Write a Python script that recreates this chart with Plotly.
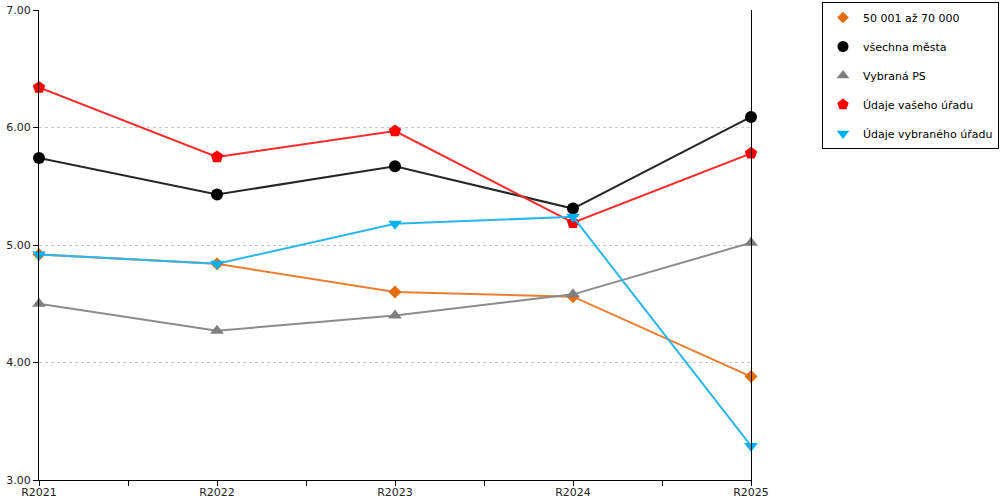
import plotly.graph_objects as go

# categories and series
years = ["R2021", "R2022", "R2023", "R2024", "R2025"]

city_size = [4.92, 4.84, 4.60, 4.56, 3.88]       # 50 001 až 70 000
all_cities = [5.74, 5.43, 5.67, 5.31, 6.09]      # všechna města
selected_ps = [4.50, 4.27, 4.40, 4.58, 5.02]     # Vybraná PS
your_office = [6.34, 5.75, 5.97, 5.19, 5.78]     # Údaje vašeho úřadu
chosen_office = [4.92, 4.84, 5.18, 5.24, 3.29]   # Údaje vybraného úřadu

y_ticks = [3, 4, 5, 6, 7]

series = [
    ("50 001 až 70 000", city_size, "#ED7D31", "#E46C0A", "diamond", 10),
    ("všechna města", all_cities, "#262626", "#000000", "circle", 12),
    ("Vybraná PS", selected_ps, "#8C8C8C", "#7F7F7F", "triangle-up", 12),
    ("Údaje vašeho úřadu", your_office, "#FF2A2A", "#FF0000", "pentagon", 13),
    ("Údaje vybraného úřadu", chosen_office, "#29B6EE", "#00B0F0", "triangle-down", 12),
]

xpos = list(range(len(years)))

fig = go.Figure()

for i, (name, vals, lcol, mcol, sym, size) in enumerate(series):
    fig.add_trace(
        go.Scatter(
            x=xpos,
            y=vals,
            mode="lines+markers",
            line=dict(color=lcol, width=2),
            marker=dict(color=mcol, symbol=sym, size=size),
            cliponaxis=False,
            showlegend=False,
            hoverinfo="skip",
        )
    )
    # legend entry with marker only
    fig.add_trace(
        go.Scatter(
            x=[None],
            y=[None],
            mode="markers",
            name=name,
            legendgroup=str(i),
            marker=dict(color=mcol, symbol=sym, size=size - 1),
        )
    )

fig.update_layout(
    width=1000,
    height=500,
    plot_bgcolor="white",
    paper_bgcolor="white",
    font=dict(family="DejaVu Sans", size=11, color="#222222"),
    margin=dict(l=39, r=249, t=10, b=20, autoexpand=False),
    showlegend=True,
    legend=dict(
        x=(822 - 39) / 712,
        xanchor="left",
        y=1 + 8 / 470,
        yanchor="top",
        bordercolor="black",
        borderwidth=1,
        bgcolor="white",
        tracegroupgap=10,
        itemwidth=30,
        font=dict(size=11, color="#000000"),
    ),
    # overlay axis only for the short tick part above the x axis line
    xaxis2=dict(
        overlaying="x",
        anchor="y",
        range=[0, 4],
        tickvals=[v / 2 for v in range(9)],
        ticks="inside",
        ticklen=3,
        tickcolor="black",
        showticklabels=False,
        showgrid=False,
        showline=False,
        zeroline=False,
    ),
)

fig.layout.xaxis.update(
    range=[0, 4],
    tickvals=xpos,
    ticktext=years,
    ticks="outside",
    ticklen=5,
    tickcolor="black",
    ticklabelstandoff=-3,
    minor=dict(tickvals=[0.5, 1.5, 2.5, 3.5], ticks="outside", ticklen=5, tickcolor="black"),
    showline=True,
    linecolor="black",
    linewidth=1,
    showgrid=False,
    zeroline=False,
    automargin=False,
)

fig.layout.yaxis.update(
    range=[3, 7],
    tickvals=y_ticks,
    tickformat=".2f",
    ticks="outside",
    ticklen=5,
    tickcolor="black",
    showline=True,
    linecolor="black",
    linewidth=1,
    mirror=True,
    showgrid=True,
    gridcolor="#C8C8C8",
    griddash="dot",
    gridwidth=1,
    zeroline=False,
    automargin=False,
)

# page body has a default 8px margin, drop it so the figure sits at 0,0
fig.write_html(
    "out.html",
    config={"displayModeBar": False},
    post_script="document.body.style.margin='0px';",
)
